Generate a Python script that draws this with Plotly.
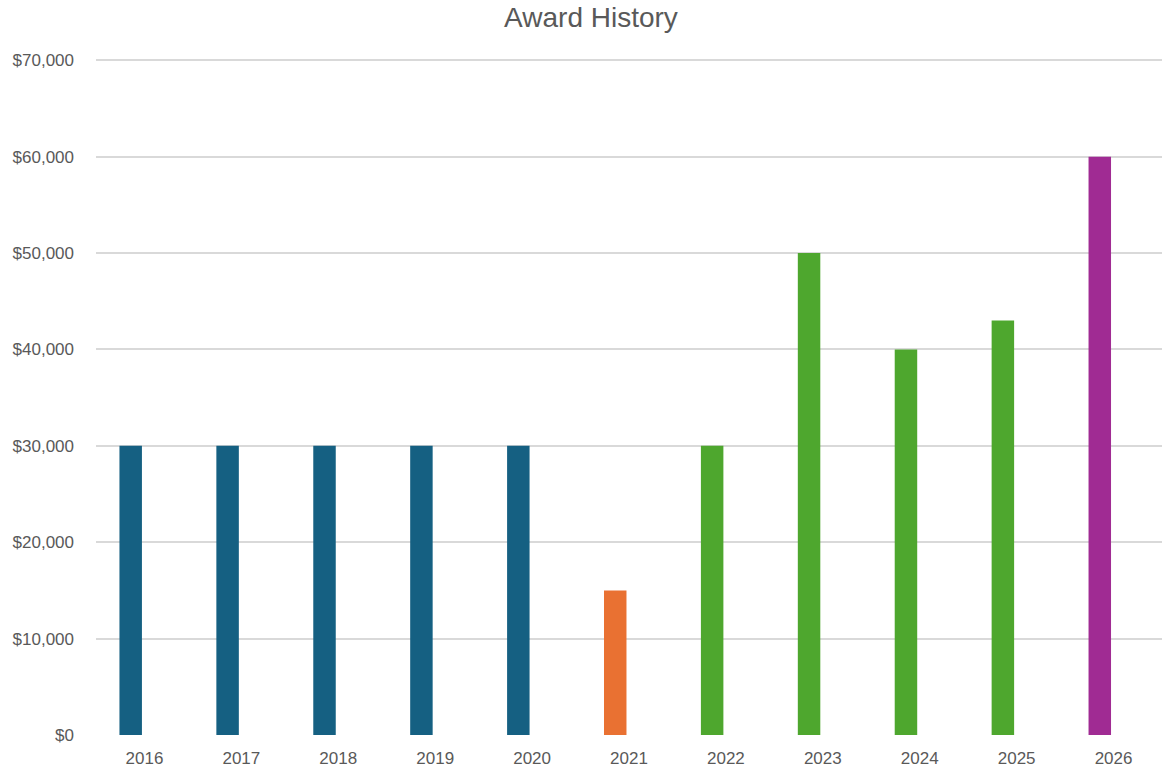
import plotly.graph_objects as go

years = ["2016", "2017", "2018", "2019", "2020", "2021", "2022", "2023", "2024", "2025", "2026"]
awards = [30000, 30000, 30000, 30000, 30000, 15000, 30000, 50000, 40000, 43000, 60000]
groups = ["a", "a", "a", "a", "a", "b", "c", "c", "c", "c", "d"]
group_colors = {"a": "#156082", "b": "#E97132", "c": "#4EA72E", "d": "#A02B93"}
y_ticks = [0, 10000, 20000, 30000, 40000, 50000, 60000, 70000]

fig = go.Figure(
    go.Bar(
        x=years,
        y=awards,
        marker=dict(color=[group_colors[g] for g in groups], line=dict(width=0)),
        width=0.232,
        offset=-0.258,
        showlegend=False,
        hoverinfo="x+y",
    )
)

fig.update_layout(
    width=1162,
    height=770,
    margin=dict(l=96, r=0, t=59, b=35),
    paper_bgcolor="white",
    plot_bgcolor="white",
    font=dict(family="Liberation Sans, Arial, sans-serif", color="#595959", size=17),
    title=dict(
        text="Award History",
        x=0.5086,
        xanchor="center",
        y=0.978,
        yanchor="middle",
        font=dict(size=28, color="#595959"),
    ),
    xaxis=dict(
        type="category",
        automargin=False,
        showgrid=False,
        showline=False,
        ticks="",
        tickfont=dict(size=17, color="#595959"),
        ticklabelstandoff=11,
    ),
    yaxis=dict(
        range=[0, 70140],
        automargin=False,
        tickvals=y_ticks,
        ticktext=["${:,}".format(v) for v in y_ticks],
        showgrid=True,
        gridcolor="#D9D9D9",
        gridwidth=1.5,
        zeroline=False,
        showline=False,
        ticks="",
        tickfont=dict(size=17, color="#595959"),
        ticklabelstandoff=21,
    ),
)

fig.write_html(
    "out.html",
    config={"displayModeBar": False},
    post_script="document.body.style.margin='0';document.body.style.overflow='hidden';",
)
